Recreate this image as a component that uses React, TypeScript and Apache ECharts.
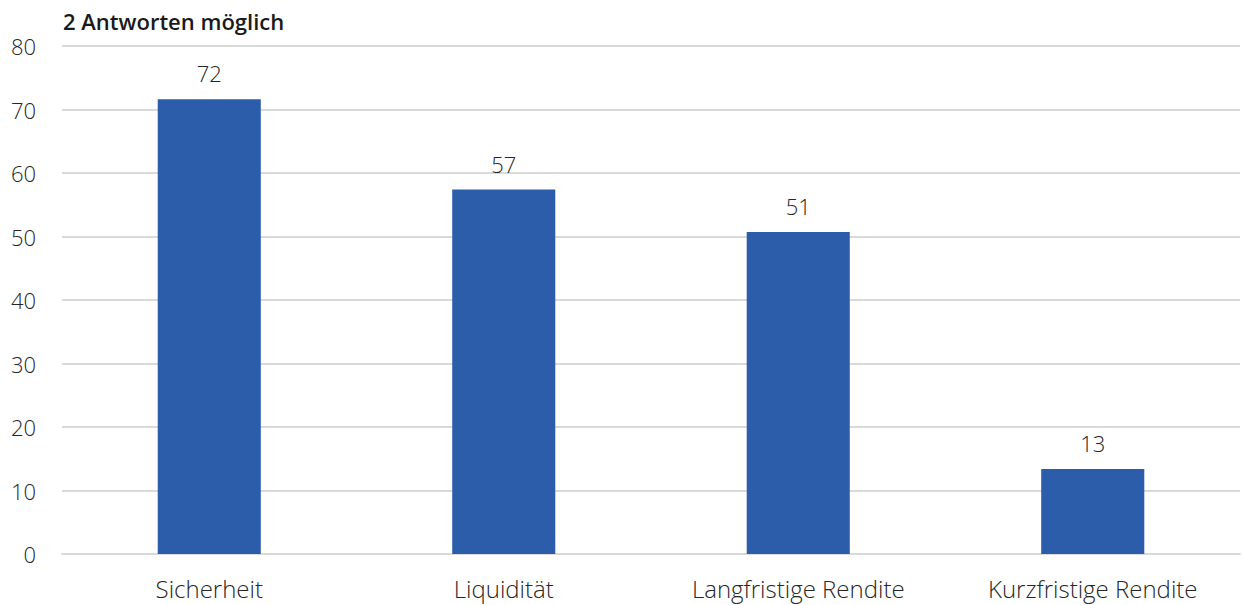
import React, { useEffect, useRef } from "react";
import * as echarts from "echarts";

const title = "2 Antworten möglich";
const categories = ["Sicherheit", "Liquidität", "Langfristige Rendite", "Kurzfristige Rendite"];
const values = [71.6, 57.4, 50.7, 13.4];
const yMin = 0;
const yMax = 80;
const yInterval = 10;

export default function App() {
  const ref = useRef<HTMLDivElement>(null);
  useEffect(() => {
    if (!ref.current) return;
    const chart = echarts.init(ref.current, null, { renderer: "svg" });
    const font = "'Open Sans', 'Noto Sans', sans-serif";
    chart.setOption({
      animation: false,
      backgroundColor: "#ffffff",
      title: {
        text: title,
        left: 58,
        top: 5,
        textStyle: { fontFamily: font, fontSize: 22, fontWeight: 600, color: "#1a1a1a" },
      },
      grid: { left: 62, right: 3, top: 46, bottom: 51, containLabel: false },
      xAxis: {
        type: "category",
        data: categories,
        axisLine: { show: true, lineStyle: { color: "#d9d9d9", width: 2 } },
        axisTick: { show: false },
        axisLabel: { fontFamily: font, fontSize: 24, fontWeight: 300, color: "#262626", margin: 22 },
      },
      yAxis: {
        type: "value",
        min: yMin,
        max: yMax,
        interval: yInterval,
        axisLine: { show: false },
        axisTick: { show: false },
        splitLine: { lineStyle: { color: "#d9d9d9", width: 2 } },
        axisLabel: { fontFamily: font, fontSize: 22, fontWeight: 300, color: "#262626", margin: 26 },
      },
      series: [
        {
          type: "bar",
          data: values,
          barWidth: "35%",
          itemStyle: { color: "#2B5DAA" },
          label: {
            show: true,
            position: "top",
            distance: 15,
            fontFamily: font,
            fontSize: 22,
            fontWeight: 300,
            color: "#262626",
            formatter: (p: any) => String(Math.round(p.value)),
          },
        },
      ],
    });
    return () => chart.dispose();
  }, []);
  return (
    <div
      ref={ref}
      style={{ position: "fixed", left: 0, top: 0, width: 1243, height: 605 }}
    />
  );
}
